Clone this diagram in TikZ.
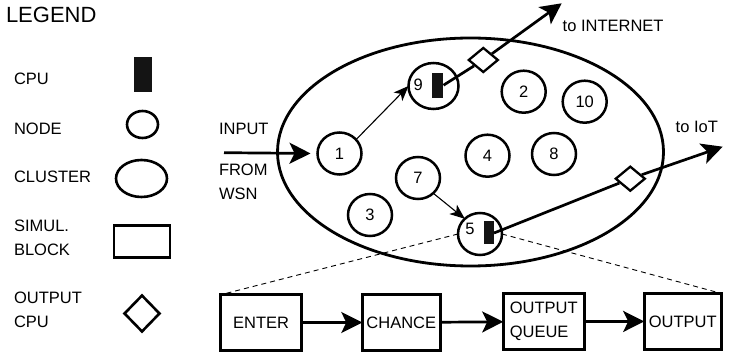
\documentclass[tikz,border=0pt]{standalone}
\usepackage{fontspec}
\setmainfont{Liberation Sans}
\usetikzlibrary{arrows.meta,shapes.geometric}
\begin{document}
\begin{tikzpicture}[x=1pt,y=-1pt,
  txt/.style={font=\fontsize{16.5}{24}\selectfont, inner sep=0pt, outer sep=0pt},
  lbl/.style={txt, anchor=base west},
  lbltwo/.style={txt, anchor=west, align=left},
  nodec/.style={draw, ellipse, line width=2.5pt, inner sep=0pt, minimum width=44pt, minimum height=42pt, txt},
  ell/.style={draw, ellipse, line width=2.8pt, inner sep=0pt},
  cpubar/.style={fill=black!92, draw=none, inner sep=0pt},
  dia/.style={draw, diamond, line width=2.3pt, inner sep=0pt, fill=white},
  simbox/.style={draw, line width=3pt, inner sep=0pt, txt},
  thickarrow/.style={line width=2.7pt, -{Stealth[length=21pt,width=21pt,inset=5pt]}},
  thickline/.style={line width=2.7pt},
  thinarrow/.style={line width=1.1pt, -{Stealth[length=15pt,width=12pt,inset=4pt]}},
  dashline/.style={line width=0.9pt, dash pattern=on 5pt off 4pt}
]
\useasboundingbox (0,0) rectangle (736,355);

% ---------- legend ----------
\node[txt, anchor=base west, font=\fontsize{22}{26}\selectfont] (tleg) at (6,22.7) {LEGEND};
\node[lbl] (tcpu) at (14,85) {CPU};
\node[lbl] (tnode) at (14,135) {NODE};
\node[lbl] (tclu) at (14,183) {CLUSTER};
\node[lbltwo] (tsim) at (14,238) {SIMUL.\\BLOCK};
\node[lbltwo] (tocpu) at (14,309.5) {OUTPUT\\CPU};

\node[cpubar, minimum width=18pt, minimum height=35pt] (lcpu) at (143,74.5) {};
\node[ell, line width=2.6pt, minimum width=31pt, minimum height=27pt] (lnode) at (142.5,124.5) {};
\node[ell, line width=2.6pt, minimum width=51pt, minimum height=37pt] (lclu) at (141.5,178.5) {};
\node[simbox, line width=2.6pt, minimum width=56pt, minimum height=32pt] (lblk) at (142,241.5) {};
\node[dia, line width=2.6pt, minimum width=36pt, minimum height=37pt] (ldia) at (142,313.5) {};

% ---------- cluster ----------
\node[ell, minimum width=386pt, minimum height=228pt] (cl) at (470.5,152) {};

\node[nodec] (n1) at (339.5,153.5) {1};
\node[nodec] (n2) at (523.7,91.7) {2};
\node[nodec] (n3) at (370,215) {3};
\node[nodec] (n4) at (487.5,155.7) {4};
\node[nodec] (n5) at (480,234) {};
\node[nodec] (n7) at (418,178) {7};
\node[nodec] (n8) at (554,154) {8};
\node[nodec, minimum width=50pt, minimum height=46pt] (n9) at (433.5,86) {};
\node[nodec] (n10) at (584.7,101.7) {10};

\node[txt] (l9) at (418.3,85) {9};
\node[txt] (l5) at (470,229.3) {5};
\node[cpubar, minimum width=11pt, minimum height=25pt] (c9) at (437.8,85.2) {};
\node[cpubar, minimum width=10pt, minimum height=23pt] (c5) at (488.8,233) {};

\node[dia, minimum width=30pt, minimum height=25pt] (d9) at (483.3,60) {};
\node[dia, minimum width=30pt, minimum height=25pt] (d5) at (630.3,178.7) {};

\coordinate (inet) at (561.7,3.3);
\coordinate (iot) at (722.7,146.7);
\coordinate (inp) at (224,152.7);

% ---------- texts ----------
\node[lbl] (tin) at (219,134.3) {INPUT};
\node[lbltwo] (tfrom) at (219,182) {FROM\\WSN};
\node[lbl] (tinet) at (562.7,31.7) {to INTERNET};
\node[lbl] (tiot) at (675.7,132.3) {to IoT};

% ---------- block chain ----------
\node[simbox, minimum width=81pt, minimum height=55.5pt] (enter) at (261.2,322.5) {ENTER};
\node[simbox, minimum width=78pt, minimum height=56pt] (chance) at (401.3,322.5) {CHANCE};
\node[simbox, minimum width=81pt, minimum height=56pt, align=left] (oq) at (543.7,321.5) {OUTPUT\\QUEUE};
\node[simbox, minimum width=77pt, minimum height=56pt] (outb) at (682.7,321.4) {OUTPUT};

% ---------- connectors ----------
\draw[thickarrow, shorten >=7pt] (inp) -- (n1.west);
\draw[thinarrow] (n1.40) -- (n9.west);
\draw[thinarrow] (n7.-45) -- (n5.135);
\draw[thickline] (c9.east) -- (d9);
\draw[thickarrow] (d9) -- (inet);
\draw[thickline] (c5.east) -- (d5);
\draw[thickarrow] (d5) -- (iot);

\draw[dashline] (n5.west) -- (enter.north west);
\draw[dashline] (n5.east) -- (outb.north east);

\draw[thickarrow] (enter) -- (chance);
\draw[thickarrow] (chance) -- (oq);
\draw[thickarrow] (oq) -- (outb);
\end{tikzpicture}
\end{document}
